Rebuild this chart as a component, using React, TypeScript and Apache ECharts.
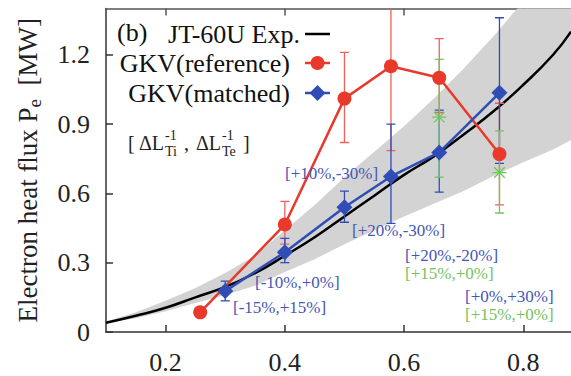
import React, { useEffect, useRef } from "react";
import * as echarts from "echarts";

const SERIF = "Times New Roman, Liberation Serif, DejaVu Serif, serif";

// Tick positions
const xTicks = [0.2, 0.4, 0.6, 0.8];
const yTicks = [0, 0.3, 0.6, 0.9, 1.2];

// Experimental profile and its uncertainty band
const expX = [0.1, 0.15, 0.2, 0.25, 0.3, 0.35, 0.4, 0.45, 0.5, 0.55, 0.6, 0.65, 0.7, 0.75, 0.8, 0.85, 0.88];
const expY = [0.04, 0.07, 0.105, 0.15, 0.195, 0.255, 0.33, 0.41, 0.5, 0.59, 0.68, 0.76, 0.855, 0.955, 1.07, 1.2, 1.3];
const bandUpper = [0.045, 0.085, 0.135, 0.19, 0.255, 0.33, 0.44, 0.55, 0.67, 0.78, 0.89, 1.01, 1.14, 1.28, 1.43, 1.57, 1.66];
const bandLower = [0.04, 0.06, 0.09, 0.125, 0.16, 0.2, 0.26, 0.315, 0.38, 0.44, 0.5, 0.555, 0.61, 0.675, 0.735, 0.79, 0.83];

// GKV (reference)
const refX = [0.258, 0.4, 0.5, 0.578, 0.659, 0.76];
const refY = [0.085, 0.465, 1.01, 1.15, 1.1, 0.77];
const refLow = [null, 0.38, 0.82, 0.785, 0.95, 0.55];
const refHigh = [null, 0.565, 1.21, 1.5, 1.27, 0.99];

// GKV (matched)
const matX = [0.3, 0.4, 0.5, 0.578, 0.659, 0.76];
const matY = [0.177, 0.345, 0.54, 0.673, 0.777, 1.035];
const matLow = [0.135, 0.3, 0.475, 0.47, 0.605, 0.73];
const matHigh = [0.22, 0.405, 0.61, 0.9, 0.96, 1.36];

// Alternative gradient scan
const altX = [0.659, 0.76];
const altY = [0.93, 0.69];
const altLow = [0.67, 0.515];
const altHigh = [1.18, 0.87];

const RED = "#e8392b";
const RED_BAR = "#f0605a";
const BLUE = "#2f4db5";
const BLUE_TEXT = "#4656b4";
const GREEN = "#6cc85a";
const GREEN_TEXT = "#74c262";

function errorBarSeries(xs: number[], lo: (number | null)[], hi: (number | null)[], color: string, z: number) {
  const data: number[][] = [];
  xs.forEach((x, i) => {
    if (lo[i] != null && hi[i] != null) data.push([x, lo[i] as number, hi[i] as number]);
  });
  return {
    type: "custom",
    clip: true,
    z,
    encode: { x: 0, y: [1, 2] },
    data,
    renderItem: (_params: any, api: any) => {
      const x = api.value(0);
      const a = api.coord([x, api.value(1)]);
      const b = api.coord([x, api.value(2)]);
      const cap = 4.5;
      const st = { stroke: color, lineWidth: 1.3 };
      return {
        type: "group",
        children: [
          { type: "line", shape: { x1: a[0], y1: a[1], x2: b[0], y2: b[1] }, style: st },
          { type: "line", shape: { x1: a[0] - cap, y1: a[1], x2: a[0] + cap, y2: a[1] }, style: st },
          { type: "line", shape: { x1: b[0] - cap, y1: b[1], x2: b[0] + cap, y2: b[1] }, style: st },
        ],
      };
    },
  };
}

function textEl(text: string, x: number, y: number, size: number, color: string, align = "left") {
  return {
    type: "text",
    x,
    y,
    z: 100,
    style: { text, fontSize: size, fontFamily: SERIF, fill: color, align, verticalAlign: "middle" },
  };
}

export default function App() {
  const ref = useRef<HTMLDivElement>(null);

  useEffect(() => {
    document.body.style.margin = "0";
    if (!ref.current) return;
    const chart = echarts.init(ref.current, undefined, { renderer: "svg" });

    const axisColor = "#333";
    const option: any = {
      animation: false,
      textStyle: { fontFamily: SERIF },
      grid: { left: 106, right: 0, top: 8.5, bottom: 44 },
      xAxis: [
        {
          type: "value",
          min: 0.1,
          max: 0.88,
          position: "bottom",
          axisLine: { show: true, onZero: false, lineStyle: { color: axisColor, width: 1.5 } },
          axisTick: { show: true, inside: true, length: 7, customValues: xTicks, lineStyle: { color: axisColor, width: 1.5 } },
          axisLabel: {
            customValues: xTicks,
            fontSize: 26,
            fontFamily: SERIF,
            color: "#222",
            margin: 17,
            formatter: (v: number) => v.toFixed(1),
          },
          splitLine: { show: false },
        },
        {
          type: "value",
          min: 0.1,
          max: 0.88,
          position: "top",
          axisLine: { show: true, onZero: false, lineStyle: { color: "#555", width: 1.5 } },
          axisTick: { show: true, inside: true, length: 7, customValues: xTicks, lineStyle: { color: "#555", width: 1.5 } },
          axisLabel: { show: false },
          splitLine: { show: false },
        },
      ],
      yAxis: {
        type: "value",
        min: 0,
        max: 1.4,
        axisLine: { show: true, onZero: false, lineStyle: { color: axisColor, width: 1.5 } },
        axisTick: { show: true, inside: true, length: 7, customValues: yTicks, lineStyle: { color: axisColor, width: 1.5 } },
        axisLabel: {
          customValues: yTicks,
          fontSize: 26,
          fontFamily: SERIF,
          color: "#222",
          margin: 16,
          formatter: (v: number) => (v === 0 ? "0" : v.toFixed(1)),
        },
        splitLine: { show: false },
        name: "{a|Electron heat flux P}{s|e}{a|  [MW]}",
        nameLocation: "middle",
        nameRotate: 90,
        nameGap: 62,
        nameTextStyle: {
          color: "#222",
          fontFamily: SERIF,
          rich: {
            a: { fontSize: 27, fontFamily: SERIF, color: "#222", lineHeight: 32 },
            s: { fontSize: 19, fontFamily: SERIF, color: "#222", verticalAlign: "bottom" },
          },
        },
      },
      series: [
        {
          type: "custom",
          clip: true,
          z: 1,
          silent: true,
          data: [[expX[0], bandLower[0]]],
          encode: { x: 0, y: 1 },
          renderItem: (_params: any, api: any) => {
            const pts: number[][] = [];
            expX.forEach((x, i) => pts.push(api.coord([x, bandUpper[i]])));
            for (let i = expX.length - 1; i >= 0; i--) pts.push(api.coord([expX[i], bandLower[i]]));
            return { type: "polygon", shape: { points: pts }, style: { fill: "#d3d3d3" } };
          },
        },
        {
          type: "line",
          z: 2,
          smooth: true,
          symbol: "none",
          data: expX.map((x, i) => [x, expY[i]]),
          lineStyle: { color: "#000", width: 2.5 },
        },
        errorBarSeries(refX, refLow, refHigh, RED_BAR, 3),
        errorBarSeries(matX, matLow, matHigh, BLUE, 3),
        errorBarSeries(altX, altLow, altHigh, GREEN, 3),
        {
          type: "custom",
          clip: true,
          z: 4,
          encode: { x: 0, y: 1 },
          data: altX.map((x, i) => [x, altY[i]]),
          renderItem: (_params: any, api: any) => {
            const p = api.coord([api.value(0), api.value(1)]);
            const r = 7;
            const d = r * 0.75;
            const st = { stroke: GREEN, lineWidth: 1.3 };
            return {
              type: "group",
              children: [
                { type: "line", shape: { x1: p[0] - r, y1: p[1], x2: p[0] + r, y2: p[1] }, style: st },
                { type: "line", shape: { x1: p[0], y1: p[1] - r, x2: p[0], y2: p[1] + r }, style: st },
                { type: "line", shape: { x1: p[0] - d, y1: p[1] - d, x2: p[0] + d, y2: p[1] + d }, style: st },
                { type: "line", shape: { x1: p[0] - d, y1: p[1] + d, x2: p[0] + d, y2: p[1] - d }, style: st },
              ],
            };
          },
        },
        {
          type: "line",
          z: 5,
          symbol: "circle",
          symbolSize: 14,
          data: refX.map((x, i) => [x, refY[i]]),
          lineStyle: { color: RED, width: 2.5 },
          itemStyle: { color: RED },
        },
        {
          type: "line",
          z: 6,
          symbol: "diamond",
          symbolSize: 16,
          data: matX.map((x, i) => [x, matY[i]]),
          lineStyle: { color: BLUE, width: 2.5 },
          itemStyle: { color: BLUE },
        },
      ],
      graphic: [
        // key
        textEl("(b)", 117, 32, 26, "#111"),
        textEl("JT-60U Exp.", 300, 34, 26, "#111", "right"),
        textEl("GKV(reference)", 290, 63, 26, "#111", "right"),
        textEl("GKV(matched)", 290, 93, 26, "#111", "right"),
        { type: "line", z: 100, shape: { x1: 305, y1: 34, x2: 330, y2: 34 }, style: { stroke: "#000", lineWidth: 2.5 } },
        { type: "line", z: 100, shape: { x1: 305, y1: 63, x2: 330, y2: 63 }, style: { stroke: RED, lineWidth: 2.5 } },
        { type: "circle", z: 101, shape: { cx: 317.5, cy: 63, r: 7 }, style: { fill: RED } },
        { type: "line", z: 100, shape: { x1: 305, y1: 93, x2: 330, y2: 93 }, style: { stroke: BLUE, lineWidth: 2.5 } },
        {
          type: "polygon",
          z: 101,
          shape: { points: [[317.5, 85], [325.5, 93], [317.5, 101], [309.5, 93]] },
          style: { fill: BLUE },
        },
        // gradient notation
        textEl("[", 128, 143, 20, "#222"),
        textEl("ΔL", 139, 143, 20, "#222"),
        textEl("-1", 165, 135, 14, "#222"),
        textEl("Ti", 165, 151, 14, "#222"),
        textEl(",", 184, 143, 20, "#222"),
        textEl("ΔL", 196, 143, 20, "#222"),
        textEl("-1", 222, 135, 14, "#222"),
        textEl("Te", 222, 151, 14, "#222"),
        textEl("]", 243, 143, 20, "#222"),
        // scan labels
        textEl("[+10%,-30%]", 285, 173, 17, BLUE_TEXT),
        textEl("[+20%,-30%]", 352, 230, 17, BLUE_TEXT),
        textEl("[+20%,-20%]", 405, 255, 17, BLUE_TEXT),
        textEl("[+15%,+0%]", 405, 273, 17, GREEN_TEXT),
        textEl("[+0%,+30%]", 465, 296, 17, BLUE_TEXT),
        textEl("[+15%,+0%]", 465, 314, 17, GREEN_TEXT),
        textEl("[-10%,+0%]", 255, 282, 17, BLUE_TEXT),
        textEl("[-15%,+15%]", 233, 307, 17, BLUE_TEXT),
      ],
    };

    chart.setOption(option);
    return () => chart.dispose();
  }, []);

  return <div ref={ref} style={{ width: 571, height: 376 }} />;
}
